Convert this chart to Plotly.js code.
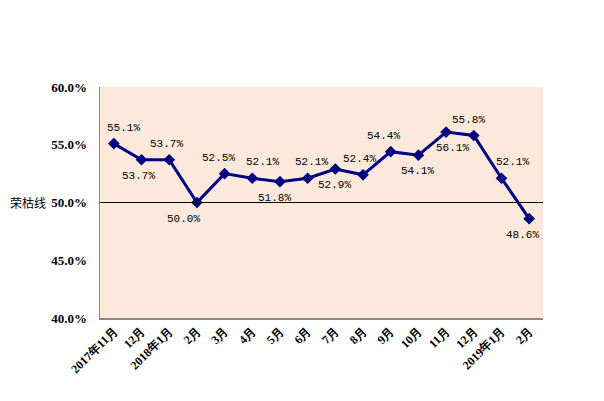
<!DOCTYPE html>
<html><head><meta charset="utf-8">
<script src="https://cdn.plot.ly/plotly-3.0.1.min.js"></script>
<style>html,body{margin:0;padding:0;background:#fff;}#c{width:604px;height:401px;}</style>
</head><body><div id="c"></div>
<script>
var categories = ["2017年11月","12月","2018年1月","2月","3月","4月","5月","6月","7月","8月","9月","10月","11月","12月","2019年1月","2月"];
var values = [55.1,53.7,53.7,50.0,52.5,52.1,51.8,52.1,52.9,52.4,54.4,54.1,56.1,55.8,52.1,48.6];
var labelAbove = [true,false,true,false,true,true,false,true,false,true,true,false,false,true,true,false];
var yTicks = [40,45,50,55,60];
var yTickText = ["40.0%","45.0%","50.0%","55.0%","60.0%"];
var threshold = 50;

// small horizontal nudges of the data labels (pixels), as placed in the reference
var labelNudge = [10,-3,-3,-13,-6,10,-5,4,-1,-4,-7,-1,6,-5,11,-7];

var idx = categories.map(function(_, i){ return i; });
var trace = {
  x: idx, y: values, type: 'scatter', mode: 'lines+markers',
  line: {color: '#000080', width: 3},
  marker: {symbol: 'diamond', size: 9, color: '#000080'},
  cliponaxis: false, hoverinfo: 'none'
};
var annotations = values.map(function(v, i){
  return {x: i, y: v, xref: 'x', yref: 'y', text: v.toFixed(1) + '%', showarrow: false,
          xanchor: 'center', yanchor: 'middle', yshift: labelAbove[i] ? 16 : -16, xshift: labelNudge[i],
          font: {family: 'Liberation Mono, monospace', size: 11, color: '#000'}};
});
annotations.push({text: '荣枯线', xref: 'paper', x: -0.117, xanchor: 'right', yref: 'y', y: threshold,
                 yanchor: 'middle', showarrow: false,
                 font: {family: 'Noto Sans CJK SC', size: 12, color: '#000'}});
var layout = {
  width: 604, height: 401,
  margin: {l: 100, r: 61, t: 87, b: 83},
  paper_bgcolor: '#ffffff', plot_bgcolor: '#FCE9DB',
  showlegend: false,
  xaxis: {
    range: [-0.5, 15.5], tickvals: idx, ticktext: categories, tickangle: -45,
    showgrid: false, zeroline: false, showline: true, linecolor: '#888888', linewidth: 1.5,
    ticks: '', tickfont: {family: 'Liberation Serif, serif', size: 12, color: '#000', weight: 'bold'}
  },
  yaxis: {
    range: [40, 60], tickvals: yTicks, ticktext: yTickText,
    showgrid: false, zeroline: false, showline: true, linecolor: '#888888', linewidth: 1.5,
    ticks: '', ticklabelstandoff: 9, tickfont: {family: 'Liberation Serif, serif', size: 13, color: '#000', weight: 'bold'}
  },
  shapes: [{type: 'line', xref: 'paper', x0: 0, x1: 1, yref: 'y', y0: threshold, y1: threshold,
            line: {color: '#000', width: 1}}],
  annotations: annotations
};
Plotly.newPlot('c', [trace], layout, {displayModeBar: false, staticPlot: true});
</script></body></html>
